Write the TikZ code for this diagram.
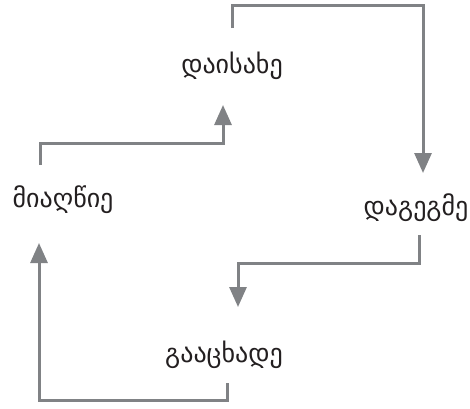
\documentclass[tikz,border=0pt]{standalone}
\usepackage{fontspec}
\newfontfamily\geofont[Script=Georgian]{DejaVu Sans}
\usetikzlibrary{arrows.meta,calc}
\definecolor{arrgray}{HTML}{808285}
\definecolor{txt}{HTML}{231F20}
\begin{document}
\begin{tikzpicture}[x=1pt,y=-1pt,
  lbl/.style={inner sep=0pt,text=txt,font=\geofont\fontsize{26}{30}\selectfont},
  arr/.style={draw=arrgray,line width=3pt,-{Triangle[width=17pt,length=20pt]}}]
\useasboundingbox (0,0) rectangle (470,408);
\node[lbl] (goal) at (232,66) {დაისახე};
\node[lbl] (reach) at (63,200) {მიაღწიე};
\node[lbl] (plan) at (416,208) {დაგეგმე};
\node[lbl] (announce) at (224,355) {გააცხადე};
\draw[arr] ($(goal.center)+(0,-38)$) -- ++(0,-23) -| ($(plan.center)+(7,-35)$);
\draw[arr] ($(plan.center)+(3,27)$) -- ++(0,28) -| ($(announce.center)+(14,-48)$);
\draw[arr] ($(announce.center)+(3,28)$) -- ++(0,17) -| ($(reach.center)+(-24,43)$);
\draw[arr] ($(reach.center)+(-23,-35)$) -- ++(0,-22) -| ($(goal.center)+(-9,39)$);
\end{tikzpicture}
\end{document}
